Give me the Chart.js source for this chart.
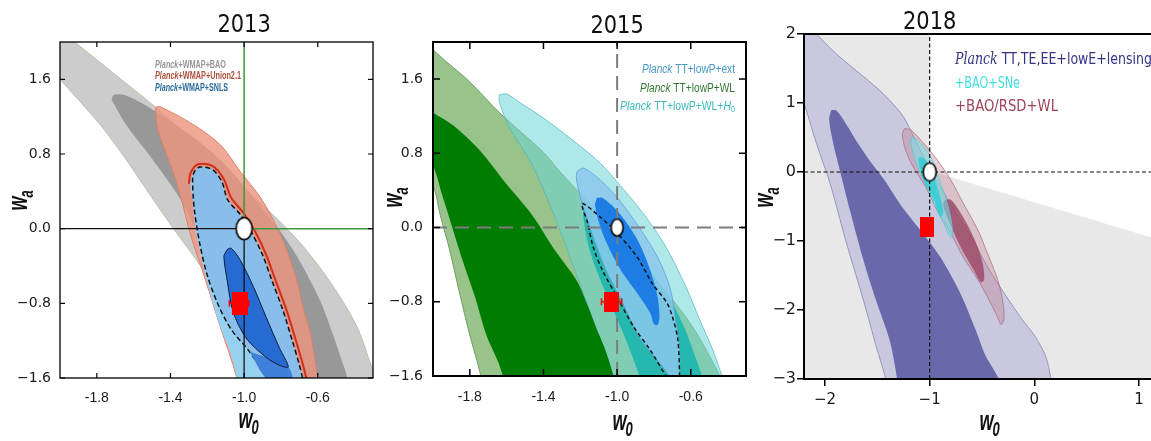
<!DOCTYPE html>
<html>
<head>
<meta charset="utf-8">
<script src="https://cdn.jsdelivr.net/npm/chart.js@4.4.1/dist/chart.umd.min.js"></script>
<style>
  html, body { margin: 0; padding: 0; background: #fff; overflow: hidden; width: 1151px; height: 441px; position: relative; }
  canvas { position: absolute; top: 0; }
  #c13 { left: 0; }
  #c15 { left: 384px; }
  #c18 { left: 752px; }
</style>
</head>
<body>
<canvas id="c13" width="384" height="441"></canvas>
<canvas id="c15" width="384" height="441"></canvas>
<canvas id="c18" width="420" height="441"></canvas>
<script>
// ---------- 2013 panel: contours as [w0, wa] pairs ----------
const xTicks13 = [-1.8, -1.4, -1.0, -0.6];
const yTicks13 = [1.6, 0.8, 0.0, -0.8, -1.6];
const legend13 = ['Planck+WMAP+BAO', 'Planck+WMAP+Union2.1', 'Planck+WMAP+SNLS'];
const bao95_13 = [[-2.05,2.21],[-1.92,2.00],[-1.70,1.65],[-1.48,1.30],[-1.24,0.88],[-1.02,0.47],[-0.86,0.18],[-0.71,-0.12],[-0.58,-0.44],[-0.47,-0.76],[-0.38,-1.08],[-0.32,-1.41],[-0.28,-1.62],[-0.26,-1.78],[-1.02,-1.78],[-1.03,-1.60],[-1.07,-1.30],[-1.10,-0.98],[-1.16,-0.66],[-1.24,-0.39],[-1.38,-0.01],[-1.51,0.36],[-1.63,0.71],[-1.78,1.11],[-2.00,1.60],[-2.11,1.84]];
const bao68_13 = [[-1.72,1.38],[-1.71,1.43],[-1.67,1.44],[-1.62,1.41],[-1.50,1.28],[-1.29,1.00],[-1.10,0.68],[-0.94,0.31],[-0.81,-0.01],[-0.70,-0.34],[-0.59,-0.76],[-0.52,-1.12],[-0.47,-1.41],[-0.44,-1.60],[-0.44,-1.78],[-1.03,-1.78],[-1.03,-1.60],[-1.09,-1.19],[-1.16,-0.66],[-1.24,-0.12],[-1.31,0.18],[-1.37,0.39],[-1.50,0.75],[-1.64,1.11]];
const union95_13 = [[-1.48,1.30],[-1.46,1.31],[-1.28,1.12],[-1.13,0.90],[-1.02,0.61],[-0.91,0.33],[-0.82,0.01],[-0.76,-0.28],[-0.71,-0.58],[-0.68,-0.85],[-0.64,-1.12],[-0.62,-1.35],[-0.60,-1.60],[-0.59,-1.78],[-1.04,-1.78],[-1.04,-1.60],[-1.13,-1.05],[-1.21,-0.55],[-1.29,-0.07],[-1.34,0.31],[-1.38,0.58],[-1.43,0.84],[-1.47,1.07],[-1.48,1.25]];
const union68_13 = [[-1.30,0.48],[-1.29,0.60],[-1.25,0.69],[-1.17,0.67],[-1.11,0.53],[-1.07,0.33],[-1.00,0.16],[-0.94,-0.03],[-0.88,-0.28],[-0.83,-0.55],[-0.77,-0.87],[-0.72,-1.19],[-0.68,-1.46],[-0.66,-1.62]];
const snls95_13 = [[-1.24,0.66],[-1.17,0.63],[-1.12,0.50],[-1.09,0.31],[-1.02,0.15],[-0.96,-0.04],[-0.90,-0.28],[-0.85,-0.55],[-0.79,-0.87],[-0.74,-1.19],[-0.70,-1.46],[-0.68,-1.60],[-0.67,-1.78],[-1.04,-1.78],[-1.04,-1.60],[-1.08,-1.30],[-1.13,-1.05],[-1.20,-0.58],[-1.26,-0.05],[-1.28,0.31],[-1.29,0.49],[-1.27,0.61]];
const snlsDash_13 = [[-0.87,-1.62],[-0.97,-1.32],[-1.07,-1.08],[-1.14,-0.82],[-1.20,-0.50],[-1.24,-0.17],[-1.27,0.20],[-1.28,0.52],[-1.27,0.61],[-1.24,0.66],[-1.17,0.63],[-1.12,0.50],[-1.09,0.31],[-1.02,0.15],[-0.96,-0.04],[-0.90,-0.28],[-0.85,-0.55],[-0.79,-0.87],[-0.74,-1.19],[-0.70,-1.46],[-0.68,-1.62]];
const snlsMid_13 = [[-0.97,-1.32],[-0.88,-1.38],[-0.80,-1.47],[-0.76,-1.48],[-0.74,-1.62],[-0.87,-1.62]];
const snls68_13 = [[-1.09,-0.22],[-1.07,-0.21],[-1.02,-0.34],[-0.95,-0.62],[-0.88,-0.95],[-0.81,-1.27],[-0.76,-1.48],[-0.80,-1.47],[-0.88,-1.38],[-0.99,-1.17],[-1.06,-0.89],[-1.09,-0.58],[-1.11,-0.30],[-1.10,-0.25]];
const best13 = [-1.025, -0.80];
const err13 = [-1.08, -0.975];

// ---------- 2015 panel ----------
const xTicks15 = [-1.8, -1.4, -1.0, -0.6];
const yTicks15 = [1.6, 0.8, 0.0, -0.8, -1.6];
const legend15 = ['Planck TT+lowP+ext', 'Planck TT+lowP+WL', 'Planck TT+lowP+WL+H0'];
const wl95_15 = [[-2.07,2.13],[-2.00,1.92],[-1.80,1.57],[-1.64,1.24],[-1.40,0.81],[-1.31,0.60],[-1.19,0.35],[-1.04,0.06],[-0.95,-0.16],[-0.77,-0.60],[-0.59,-1.07],[-0.45,-1.57],[-0.43,-1.70],[-1.74,-1.70],[-1.74,-1.60],[-1.80,-1.16],[-1.86,-0.67],[-1.91,-0.24],[-1.96,0.13],[-2.00,0.46],[-2.05,0.57]];
const wl68_15 = [[-2.05,1.32],[-2.00,1.24],[-1.89,1.10],[-1.75,0.84],[-1.61,0.49],[-1.46,0.13],[-1.34,-0.24],[-1.22,-0.57],[-1.16,-0.84],[-1.11,-1.10],[-1.06,-1.34],[-1.02,-1.60],[-1.01,-1.70],[-1.61,-1.70],[-1.62,-1.60],[-1.65,-1.43],[-1.71,-1.16],[-1.77,-0.76],[-1.84,-0.35],[-1.90,0.03],[-1.95,0.35],[-2.00,0.67],[-2.05,0.78]];
const h095_15 = [[-1.64,1.43],[-1.60,1.44],[-1.53,1.35],[-1.40,1.18],[-1.24,0.94],[-1.09,0.69],[-0.96,0.40],[-0.85,0.13],[-0.74,-0.19],[-0.63,-0.62],[-0.55,-1.00],[-0.48,-1.32],[-0.43,-1.60],[-0.41,-1.70],[-1.02,-1.70],[-1.02,-1.60],[-1.08,-1.27],[-1.15,-0.89],[-1.23,-0.46],[-1.30,-0.08],[-1.37,0.27],[-1.47,0.71],[-1.58,1.06],[-1.64,1.35]];
const h068_15 = [[-1.19,0.30],[-1.09,0.13],[-0.99,-0.08],[-0.85,-0.40],[-0.71,-0.78],[-0.63,-1.10],[-0.58,-1.37],[-0.54,-1.60],[-0.54,-1.70],[-0.88,-1.70],[-0.88,-1.60],[-0.94,-1.27],[-1.01,-0.94],[-1.08,-0.62],[-1.15,-0.24],[-1.18,0.06]];
const ext95_15 = [[-1.21,0.62],[-1.18,0.64],[-1.09,0.51],[-0.99,0.30],[-0.88,0.00],[-0.78,-0.32],[-0.71,-0.67],[-0.68,-1.03],[-0.66,-1.32],[-0.66,-1.60],[-0.66,-1.70],[-0.72,-1.70],[-0.72,-1.60],[-0.77,-1.46],[-0.88,-1.18],[-0.97,-0.81],[-1.06,-0.46],[-1.13,-0.10],[-1.19,0.26],[-1.22,0.51],[-1.22,0.59]];
const ext68_15 = [[-1.11,0.32],[-1.08,0.32],[-0.99,0.16],[-0.89,-0.13],[-0.82,-0.46],[-0.78,-0.75],[-0.77,-0.96],[-0.78,-1.05],[-0.80,-1.04],[-0.82,-0.92],[-0.89,-0.71],[-0.97,-0.49],[-1.04,-0.24],[-1.09,0.00],[-1.12,0.24]];
const dash_15 = [[-0.73,-1.62],[-0.82,-1.32],[-0.91,-1.07],[-1.00,-0.75],[-1.08,-0.46],[-1.13,-0.21],[-1.16,0.05],[-1.19,0.26],[-1.09,0.11],[-1.00,-0.06],[-0.89,-0.32],[-0.81,-0.60],[-0.73,-0.81],[-0.70,-0.96],[-0.67,-1.21],[-0.66,-1.62]];
const best15 = [-1.03, -0.80];
const err15 = [-1.085, -0.975];

// ---------- 2018 panel ----------
const xTicks18 = [-2, -1, 0, 1];
const yTicks18 = [2, 1, 0, -1, -2, -3];
const legend18 = ['Planck TT,TE,EE+lowE+lensing', '+BAO+SNe', '+BAO/RSD+WL'];
const openZone_18 = [[-1.0,2.1],[1.3,2.1],[1.3,-1.03],[-0.94,-0.01],[-1.0,0.0]];
const lens95_18 = [[-2.33,2.21],[-2.12,2.09],[-2.08,2.00],[-1.89,1.71],[-1.63,1.38],[-1.44,1.13],[-1.25,0.80],[-1.14,0.47],[-1.02,0.11],[-0.88,-0.26],[-0.74,-0.62],[-0.59,-0.98],[-0.46,-1.34],[-0.33,-1.66],[-0.13,-2.11],[0.01,-2.39],[0.11,-2.68],[0.16,-3.00],[0.18,-3.16],[-1.42,-3.16],[-1.42,-3.00],[-1.51,-2.53],[-1.63,-1.87],[-1.80,-1.00],[-1.95,-0.17],[-2.08,0.41],[-2.21,1.05],[-2.28,1.34]];
const lens68_18 = [[-1.94,0.90],[-1.89,0.89],[-1.80,0.70],[-1.70,0.45],[-1.57,0.16],[-1.42,-0.14],[-1.28,-0.47],[-1.09,-0.84],[-0.90,-1.23],[-0.71,-1.75],[-0.56,-2.29],[-0.47,-2.65],[-0.34,-3.00],[-0.32,-3.16],[-1.30,-3.16],[-1.31,-3.00],[-1.38,-2.45],[-1.51,-1.87],[-1.63,-1.29],[-1.76,-0.56],[-1.85,-0.02],[-1.92,0.41],[-1.96,0.76]];
const rsd95_18 = [[-1.24,0.63],[-1.18,0.61],[-1.06,0.42],[-0.93,0.18],[-0.80,-0.11],[-0.68,-0.45],[-0.54,-0.84],[-0.45,-1.17],[-0.35,-1.56],[-0.30,-1.89],[-0.29,-2.14],[-0.32,-2.21],[-0.34,-2.14],[-0.42,-1.89],[-0.54,-1.56],[-0.68,-1.23],[-0.80,-0.88],[-0.93,-0.55],[-1.04,-0.21],[-1.16,0.08],[-1.23,0.32],[-1.26,0.54]];
const rsd68_18 = [[-0.85,-0.40],[-0.80,-0.40],[-0.74,-0.51],[-0.64,-0.76],[-0.54,-1.09],[-0.49,-1.35],[-0.48,-1.56],[-0.51,-1.60],[-0.58,-1.42],[-0.69,-1.13],[-0.78,-0.84],[-0.85,-0.58],[-0.87,-0.46]];
const sne95_18 = [[-1.17,0.50],[-1.12,0.47],[-0.99,0.22],[-0.92,-0.07],[-0.85,-0.36],[-0.80,-0.65],[-0.78,-0.91],[-0.80,-0.95],[-0.87,-0.73],[-0.96,-0.45],[-1.06,-0.11],[-1.14,0.18],[-1.18,0.42]];
const sne68_18 = [[-1.09,0.22],[-1.04,0.18],[-0.96,-0.07],[-0.90,-0.36],[-0.87,-0.59],[-0.90,-0.65],[-0.96,-0.40],[-1.06,-0.11],[-1.11,0.18]];
const best18 = [-1.03, -0.79];

// LCDM point shared by all panels
const fiducial = [-1.0, 0.0];

// ---------- helpers ----------
Chart.defaults.font.family = '"DejaVu Sans", sans-serif';
Chart.defaults.color = '#1a1a1a';

const pts = a => a.map(p => ({ x: p[0], y: p[1] }));
const closed = a => a.concat([a[0]]);

function area(a, bg, border, extra) {
  return Object.assign({
    data: pts(closed(a)), showLine: true, fill: 'shape',
    backgroundColor: bg, borderColor: border || 'rgba(0,0,0,0)', borderWidth: border ? 1 : 0,
    pointRadius: 0, tension: 0.3, clip: 0
  }, extra || {});
}
function path(a, color, width, dash, extra) {
  return Object.assign({
    data: pts(a), showLine: true, fill: false, borderColor: color, borderWidth: width,
    borderDash: dash || [], pointRadius: 0, tension: 0.3, clip: 0
  }, extra || {});
}
function sprite(w, h, paint) {
  const c = document.createElement('canvas');
  c.width = w; c.height = h;
  paint(c.getContext('2d'), w, h);
  return c;
}
const redBox = (w, h) => sprite(w, h, g => { g.fillStyle = '#ff0000'; g.fillRect(0, 0, w, h); });
const whiteDot = (w, h) => sprite(w + 3, h + 3, g => {
  g.beginPath(); g.ellipse((w + 3) / 2, (h + 3) / 2, w / 2, h / 2, 0, 0, Math.PI * 2);
  g.fillStyle = '#fff'; g.fill(); g.lineWidth = 1.6; g.strokeStyle = '#000'; g.stroke();
});
function marker(p, img) {
  return { data: pts([p]), showLine: false, fill: false, pointStyle: img, pointRadius: 5, clip: false };
}
function errBar(p, e) {
  return { data: pts([[e[0], p[1]], [e[1], p[1]]]), showLine: true, fill: false, borderColor: '#f00', borderWidth: 1.5,
    pointStyle: 'line', pointRotation: 90, pointRadius: 3.5, pointBorderColor: '#f00', pointBorderWidth: 1.5, clip: false };
}

const fmtDec = v => (v < 0 ? '\u2212' : '') + Math.abs(v).toFixed(1);
const fmtDash = v => v.toFixed(1);
const fmtInt = v => (v < 0 ? '\u2212' : '') + Math.abs(v);

function axis(min, max, ticks, fit, fmt, font, pad, grid) {
  return {
    type: 'linear', min, max,
    afterBuildTicks: s => { s.ticks = ticks.map(v => ({ value: v })); },
    afterFit: s => { if (s.isHorizontal()) s.height = fit; else s.width = fit; },
    grid: grid || { display: false, drawTicks: false },
    border: { display: false },
    ticks: { autoSkip: false, maxRotation: 0, color: '#1a1a1a', font, padding: pad, callback: fmt }
  };
}

function legendParts(txt) {
  const out = [];
  let rest = txt;
  if (rest.startsWith('Planck')) { out.push({ t: 'Planck', it: true }); rest = rest.slice(6); }
  if (rest.endsWith('H0')) {
    out.push({ t: rest.slice(0, -2) }); out.push({ t: 'H', it: true }); out.push({ t: '0', sub: true });
  } else out.push({ t: rest });
  return out;
}
function drawRich(ctx, items, x, y, o) {
  const fontOf = it => (it.it ? 'italic ' : '') + (o.weight || 'normal') + ' ' +
    (it.sub ? Math.round(o.size * 0.7) : o.size) + 'px ' + (it.it && o.itFamily ? o.itFamily : o.family);
  let total = 0;
  const ws = items.map(it => { ctx.font = fontOf(it); const w = ctx.measureText(it.t).width; total += w; return w; });
  const k = o.width ? o.width / total : 1;
  ctx.save();
  ctx.translate(o.align === 'right' ? x - total * k : x, y);
  ctx.scale(k, 1);
  ctx.fillStyle = o.color; ctx.textBaseline = 'middle'; ctx.textAlign = 'left';
  let cx = 0;
  items.forEach((it, i) => { ctx.font = fontOf(it); ctx.fillText(it.t, cx, it.sub ? o.size * 0.3 : 0); cx += ws[i]; });
  ctx.restore();
}
function axisLabel(ctx, sub, x, y, rot) {
  const size = 18, stretch = 1.55;
  const big = 'italic bold ' + size + 'px "Liberation Sans", Arial, sans-serif';
  const small = 'italic bold ' + Math.round(size * 0.7) + 'px "Liberation Sans", Arial, sans-serif';
  ctx.save();
  ctx.translate(x, y); ctx.rotate(rot); ctx.scale(1, stretch);
  ctx.font = big; const w1 = ctx.measureText('w').width;
  ctx.font = small; const w2 = ctx.measureText(sub).width;
  const x0 = -(w1 + w2) / 2;
  ctx.fillStyle = '#111'; ctx.textAlign = 'left'; ctx.textBaseline = 'alphabetic';
  ctx.font = big; ctx.fillText('w', x0, size * 0.24);
  ctx.font = small; ctx.fillText(sub, x0 + w1 - 1, size * 0.24 + size * 0.24);
  ctx.restore();
}

// frame, inward ticks, titles, axis names, legends
const decor = {
  id: 'decor',
  beforeDatasetsDraw(chart, args, o) {
    if (!o.plotBg) return;
    const a = chart.chartArea, ctx = chart.ctx;
    ctx.save();
    ctx.fillStyle = o.plotBg;
    ctx.fillRect(a.left, a.top, a.right - a.left, a.bottom - a.top);
    ctx.restore();
  },
  afterDraw(chart, args, o) {
    const ctx = chart.ctx, a = chart.chartArea, xs = chart.scales.x, ys = chart.scales.y;
    ctx.save();
    ctx.strokeStyle = '#000';
    ctx.lineWidth = o.frame;
    ctx.strokeRect(a.left, a.top, a.right - a.left, a.bottom - a.top);
    if (o.tick) {
      ctx.lineWidth = o.tickWidth;
      ctx.beginPath();
      xs.ticks.forEach(t => {
        const px = xs.getPixelForValue(t.value);
        ctx.moveTo(px, a.bottom); ctx.lineTo(px, a.bottom - o.tick);
        ctx.moveTo(px, a.top); ctx.lineTo(px, a.top + o.tick);
      });
      ys.ticks.forEach(t => {
        const py = ys.getPixelForValue(t.value);
        ctx.moveTo(a.left, py); ctx.lineTo(a.left + o.tick, py);
        ctx.moveTo(a.right, py); ctx.lineTo(a.right - o.tick, py);
      });
      ctx.stroke();
    }
    // year title, centred over w0 = -1
    ctx.save();
    ctx.translate(xs.getPixelForValue(-1), o.titleY);
    ctx.scale(1, 1.2);
    ctx.fillStyle = '#111'; ctx.textAlign = 'center'; ctx.textBaseline = 'middle';
    ctx.font = '21px "DejaVu Sans"';
    ctx.fillText(o.title, 0, 0);
    ctx.restore();
    axisLabel(ctx, '0', o.xName[0], o.xName[1], 0);
    axisLabel(ctx, 'a', o.yName[0], o.yName[1], -Math.PI / 2);
    const L = o.legend;
    L.items.forEach((txt, i) => drawRich(ctx, legendParts(txt), L.x, L.ys[i], {
      size: L.size, weight: L.weight, family: L.family, itFamily: L.itFamily,
      color: L.colors[i], width: L.widths[i], align: L.align
    }));
    ctx.restore();
  }
};

function build(id, datasets, padding, scales, decorOpts) {
  const n = datasets.length;
  datasets.forEach((d, i) => { d.order = n - i; });
  return new Chart(document.getElementById(id), {
    type: 'scatter',
    data: { datasets },
    options: {
      responsive: false, animation: false, events: [],
      layout: { padding },
      elements: { line: { capBezierPoints: false, borderJoinStyle: 'round' } },
      plugins: { legend: { display: false }, tooltip: { enabled: false }, decor: decorOpts },
      scales
    },
    plugins: [decor]
  });
}

const tickFontX = { family: '"Liberation Sans", Arial, sans-serif', size: 14 };
const tickFontY = { family: '"DejaVu Sans", sans-serif', size: 14 };

// ---------- 2013 ----------
build('c13', [
  area(bao95_13, 'rgb(204,204,204)', 'rgba(185,185,160,0.9)'),
  area(bao68_13, 'rgb(152,152,152)'),
  area(union95_13, 'rgba(238,150,128,0.82)', 'rgb(222,128,108)'),
  path(union68_13, 'rgb(210,45,25)', 2),
  area(snls95_13, 'rgb(150,210,240)'),
  area(snlsDash_13, 'rgb(138,190,234)', '#111', { borderDash: [5, 3], borderWidth: 1.5, data: pts(snlsDash_13) }),
  area(snlsMid_13, 'rgb(62,128,218)'),
  area(snls68_13, 'rgb(38,106,210)', '#0b1b3c'),
  path([[-2.0, 0], fiducial], '#111', 1.3, null, { tension: 0 }),
  path([fiducial, [-0.3, 0]], 'rgb(60,150,60)', 1.5, null, { tension: 0 }),
  path([fiducial, [-1.0, 2.0]], 'rgb(60,150,60)', 1.5, null, { tension: 0 }),
  path([[-1.0, -1.6], fiducial], '#111', 1.3, null, { tension: 0 }),
  errBar(best13, err13),
  marker(best13, redBox(16, 23)),
  marker(fiducial, whiteDot(16, 22))
], { left: 0, top: 42, right: 11, bottom: 0 }, {
  x: axis(-2.0, -0.3, xTicks13, 63, fmtDash, tickFontX, 12),
  y: axis(-1.6, 2.0, yTicks13, 60, fmtDec, tickFontY, 9)
}, {
  frame: 1.3, tick: 5, tickWidth: 1.2, title: '2013', titleY: 25,
  xName: [249, 421], yName: [20, 200],
  legend: { items: legend13, x: 155, ys: [65, 76, 88], widths: [71, 86, 73],
    colors: ['rgb(150,150,150)', 'rgb(172,80,62)', 'rgb(42,108,158)'],
    size: 10, weight: 'bold', family: '"Liberation Sans", Arial, sans-serif', align: 'left' }
});

// ---------- 2015 ----------
build('c15', [
  area(wl95_15, 'rgb(152,196,140)', 'rgb(112,160,100)'),
  area(h095_15, 'rgba(110,214,214,0.55)', 'rgba(80,180,190,0.7)'),
  area(wl68_15, 'rgb(0,125,0)'),
  area(h068_15, 'rgb(36,184,174)'),
  area(ext95_15, 'rgba(140,200,238,0.85)', 'rgba(90,160,215,0.8)'),
  area(ext68_15, 'rgb(30,125,228)'),
  path(dash_15, '#111', 1.5, [4, 3]),
  path([[-1.0, -1.6], [-1.0, 2.0]], 'rgb(125,125,125)', 2, [14, 8], { tension: 0 }),
  path([[-2.0, 0], [-0.3, 0]], 'rgb(125,125,125)', 2, [14, 8], { tension: 0 }),
  errBar(best15, err15),
  marker(best15, redBox(15, 20)),
  marker(fiducial, whiteDot(12, 17))
], { left: 0, top: 42, right: 22, bottom: 0 }, {
  x: axis(-2.0, -0.3, xTicks15, 65, fmtDash, tickFontX, 13),
  y: axis(-1.6, 2.0, yTicks15, 49, fmtDec, tickFontY, 10)
}, {
  frame: 2, tick: 7, tickWidth: 1.5, title: '2015', titleY: 26,
  xName: [239, 423], yName: [11, 197],
  legend: { items: legend15, x: 351, ys: [69, 88, 106], widths: [93, 95, 115],
    colors: ['rgb(70,150,200)', 'rgb(50,120,50)', 'rgb(60,185,185)'],
    size: 13, weight: 'normal', family: '"Liberation Sans", Arial, sans-serif', align: 'right' }
});

// ---------- 2018 ----------
build('c18', [
  area(openZone_18, '#ffffff', null, { tension: 0 }),
  area(lens95_18, 'rgb(200,200,222)', 'rgb(150,150,188)'),
  area(lens68_18, 'rgb(104,104,170)'),
  area(rsd95_18, 'rgba(190,115,135,0.33)', 'rgba(175,105,125,0.75)'),
  area(rsd68_18, 'rgba(155,70,100,0.8)'),
  area(sne95_18, 'rgba(120,225,232,0.55)', 'rgba(90,200,210,0.8)'),
  area(sne68_18, 'rgba(40,208,214,0.8)'),
  path([[-1.0, -3.0], [-1.0, 2.0]], '#111', 1.2, [4, 2.5], { tension: 0 }),
  path([[-2.2, 0], [1.2, 0]], '#111', 1.2, [4, 2.5], { tension: 0 }),
  marker(best18, redBox(14, 20)),
  marker(fiducial, whiteDot(13, 18))
], { left: 0, top: 34, right: 12, bottom: 0 }, {
  x: axis(-2.2, 1.2, xTicks18, 62, fmtInt, { family: '"DejaVu Sans", sans-serif', size: 15 }, 5,
    { display: true, drawOnChartArea: false, drawTicks: true, tickLength: 7, color: '#000', lineWidth: 1.5 }),
  y: axis(-3, 2, yTicks18, 52, fmtInt, { family: '"DejaVu Sans", sans-serif', size: 16 }, 1,
    { display: true, drawOnChartArea: false, drawTicks: true, tickLength: 7, color: '#000', lineWidth: 1.5 })
}, {
  plotBg: 'rgb(232,232,232)', frame: 2, tick: 0, title: '2018', titleY: 22,
  xName: [238, 423], yName: [14, 197],
  legend: { items: legend18, x: 203, ys: [60, 84, 107], widths: [197, 65, 103],
    colors: ['rgb(52,52,132)', 'rgb(64,222,222)', 'rgb(158,66,86)'],
    size: 16, weight: 'normal', family: '"DejaVu Sans", sans-serif',
    itFamily: '"DejaVu Serif", "Liberation Serif", serif', align: 'left' }
});
</script>
</body>
</html>
